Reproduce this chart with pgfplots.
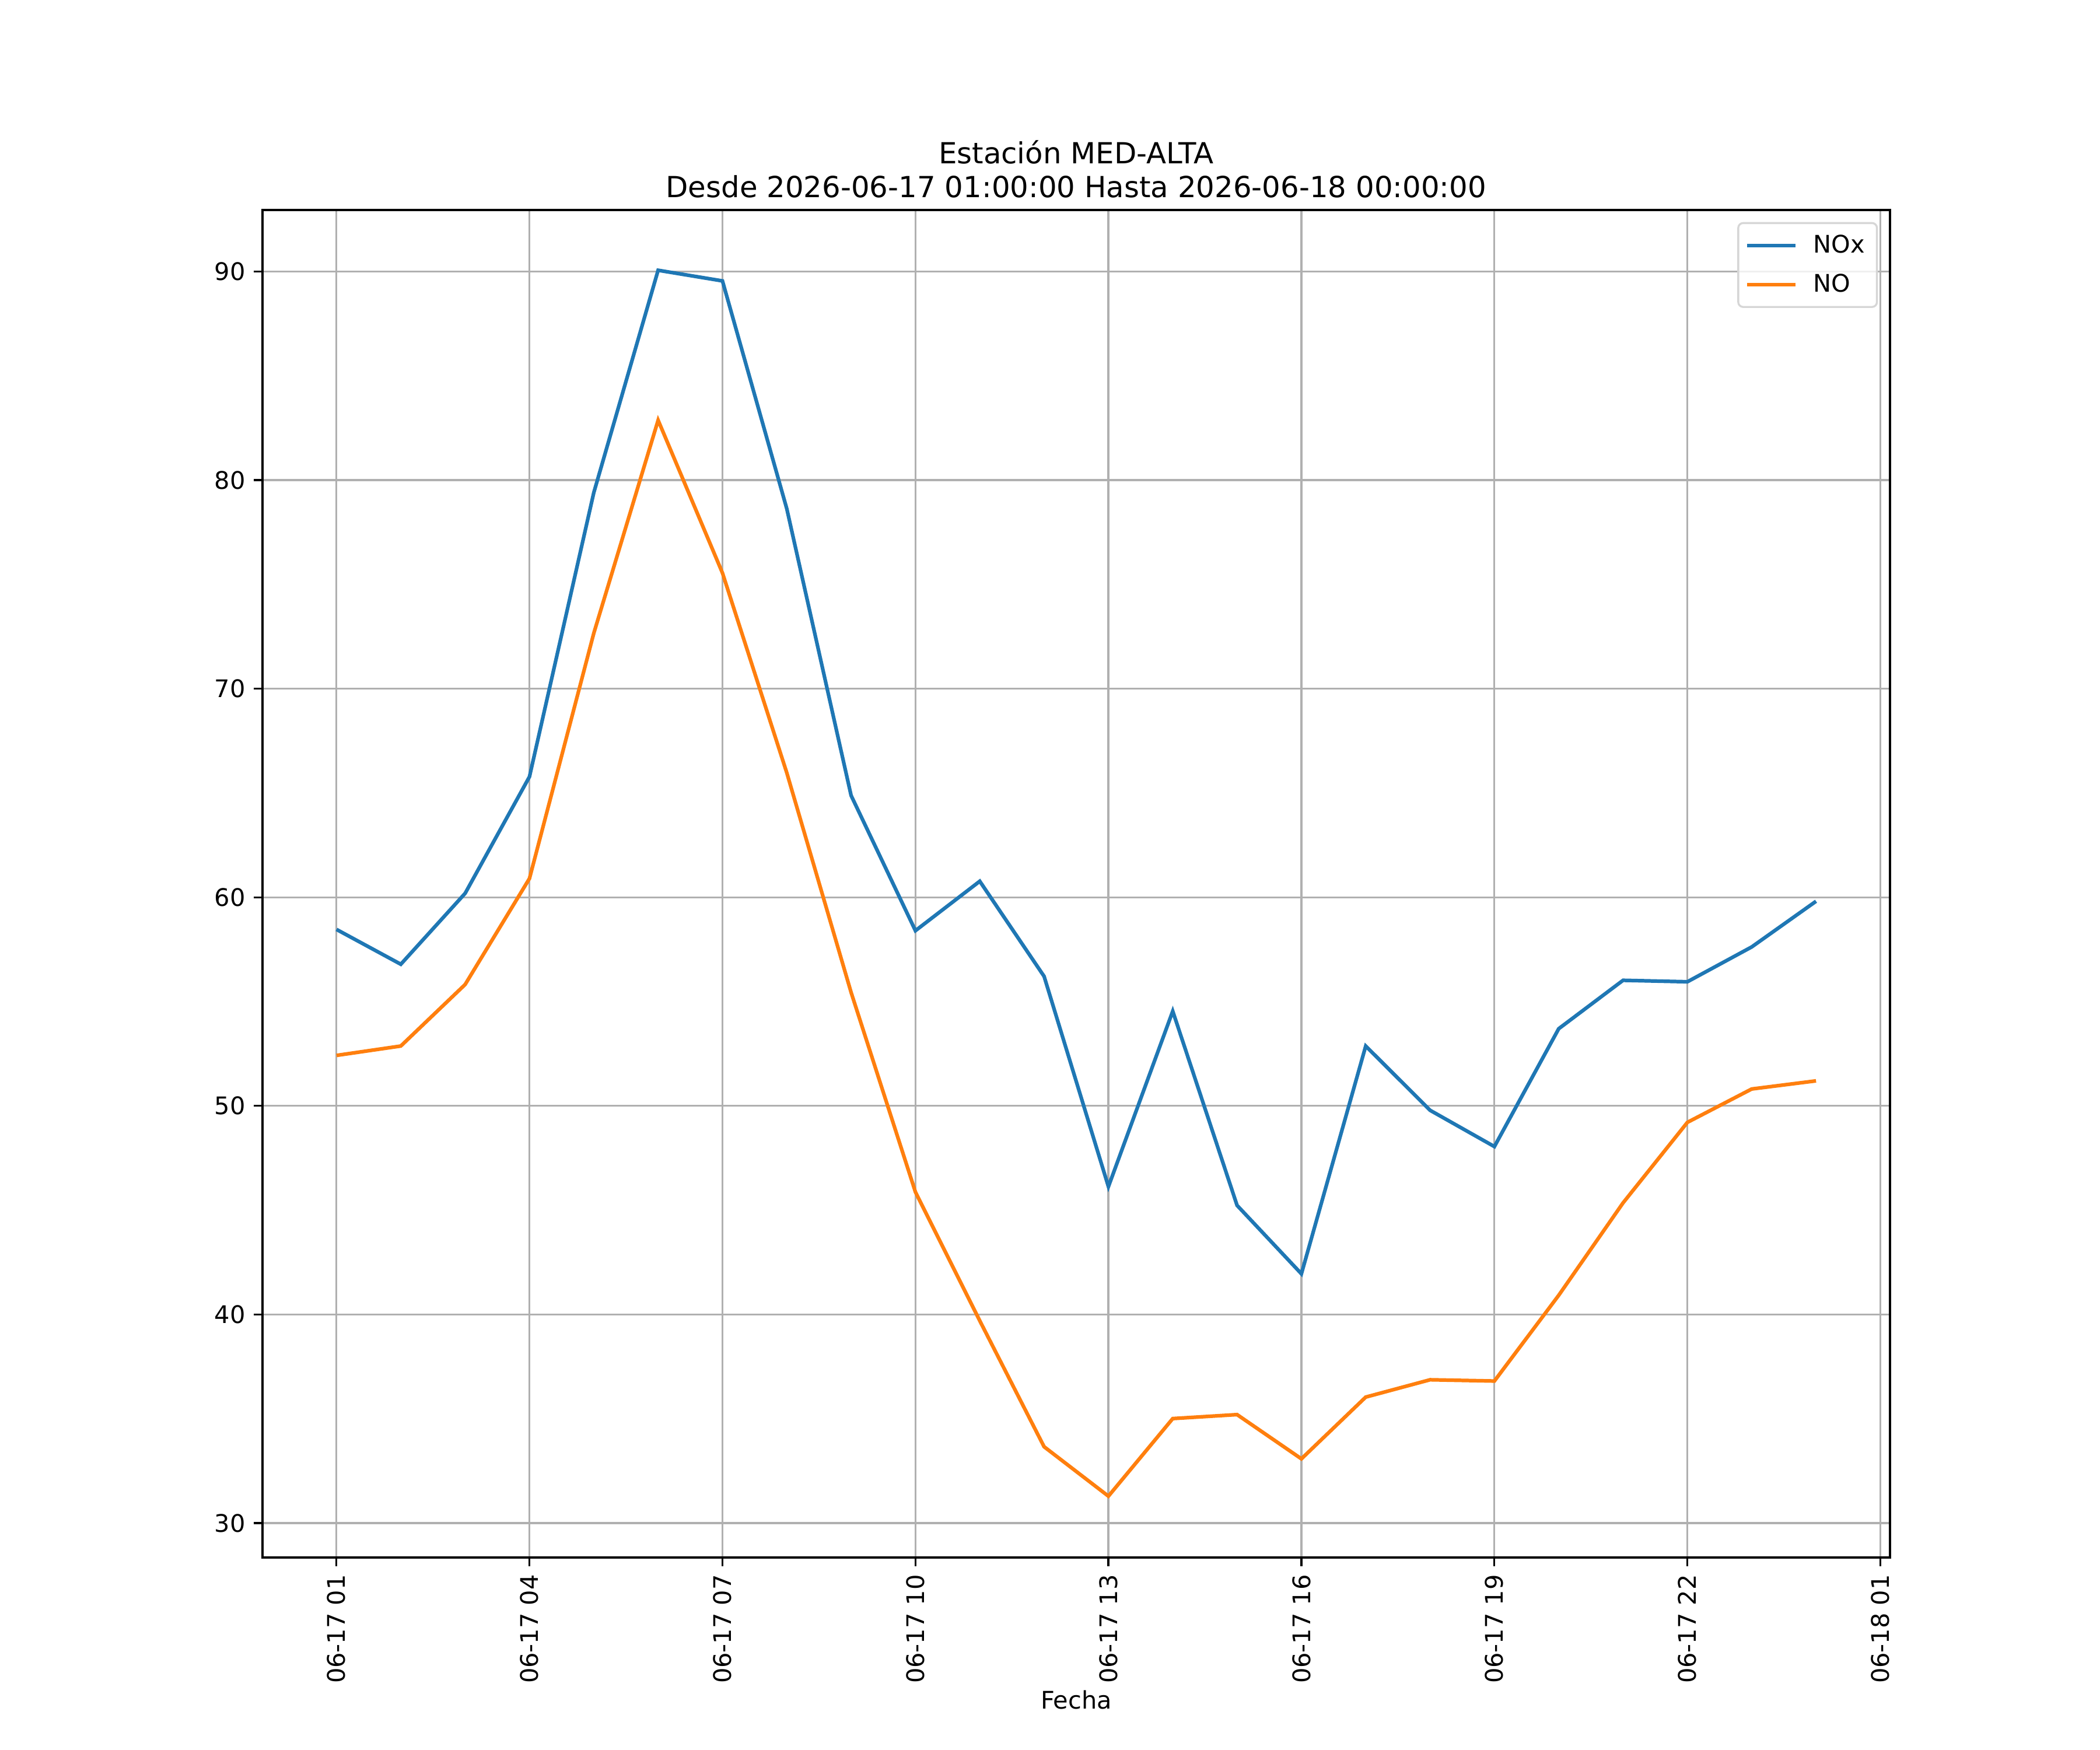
\documentclass[border=0pt]{standalone}
\usepackage{fontspec}
\setmainfont{DejaVu Sans}
\usepackage{pgfplots}
\pgfplotsset{compat=1.18}
\definecolor{c1}{HTML}{1F77B4}
\definecolor{c2}{HTML}{FF7F0E}
\begin{document}
\begin{tikzpicture}
\path (0,0) rectangle (12in,10in);
\begin{axis}[
  at={(1.5in,1.1in)}, anchor=south west,
  scale only axis, width=9.3in, height=7.7in,
  xmin=-0.15, xmax=25.15, ymin=28.35, ymax=92.95,
  axis line style={line width=0.8pt},
  xtick={1,4,7,10,13,16,19,22,25},
  xticklabels={06-17 01,06-17 04,06-17 07,06-17 10,06-17 13,06-17 16,06-17 19,06-17 22,06-18 01},
  ytick={30,40,50,60,70,80,90},
  x tick label style={rotate=90, anchor=east, font=\fontsize{10}{12}\selectfont},
  y tick label style={font=\fontsize{10}{12}\selectfont},
  /pgf/number format/assume math mode=true,
  tick align=outside, tick pos=left,
  major tick length=3.5pt,
  every tick/.style={black, line width=0.8pt},
  grid=major,
  major grid style={color=black!31, line width=0.8pt},
  xlabel={Fecha},
  xlabel style={font=\fontsize{10}{12}\selectfont, yshift=4pt},
  title={Estación MED-ALTA\\Desde 2026-06-17 01:00:00 Hasta 2026-06-18 00:00:00},
  title style={align=center, font=\fontsize{12}{14}\selectfont, at={(0.5,1)}, anchor=south, yshift=-4.5pt},
  legend style={at={(1,1)}, xshift=-5pt, yshift=-5pt, anchor=north east,
    draw=black!16, line width=0.8pt, rounded corners=2pt,
    fill=white, fill opacity=0.8, text opacity=1, draw opacity=1,
    font=\fontsize{10}{12}\selectfont,
    inner xsep=3pt, inner ysep=2.8pt, row sep=3.2pt, column sep=4.5pt,
    nodes={inner sep=2pt}},
  legend cell align=left,
  legend image code/.code={\draw[#1] (0pt,0pt) -- (20pt,0pt);},
]
\addplot[c1, line width=1.5pt] coordinates {
(1,58.46) (2,56.79) (3,60.19) (4,65.78) (5,79.4) (6,90.06) (7,89.55) (8,78.63)
(9,64.88) (10,58.40) (11,60.77) (12,56.21) (13,46.13) (14,54.54) (15,45.23) (16,41.95)
(17,52.87) (18,49.79) (19,48.05) (20,53.70) (21,56.02) (22,55.95) (23,57.62) (24,59.81)};
\addlegendentry{NOx}
\addplot[c2, line width=1.5pt] coordinates {
(1,52.42) (2,52.87) (3,55.82) (4,60.90) (5,72.66) (6,82.87) (7,75.55) (8,65.97)
(9,55.44) (10,45.87) (11,39.70) (12,33.66) (13,31.29) (14,35.01) (15,35.20) (16,33.08)
(17,36.04) (18,36.87) (19,36.81) (20,40.92) (21,45.35) (22,49.21) (23,50.81) (24,51.20)};
\addlegendentry{NO}
\end{axis}
\end{tikzpicture}
\end{document}
